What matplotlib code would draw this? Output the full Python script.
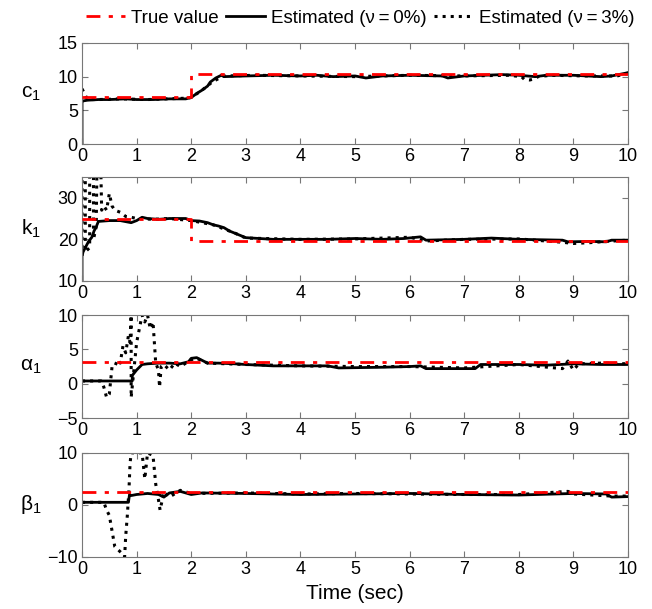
import numpy as np
import matplotlib
matplotlib.use('Agg')
import matplotlib.pyplot as plt

plt.rcParams['font.family'] = ['Liberation Sans', 'DejaVu Sans']
plt.rcParams['mathtext.default'] = 'regular'
plt.rcParams['font.size'] = 12

# ---- data ----
c1_true_t = [0, 2, 2, 10]
c1_true = [7.0, 7.0, 10.4, 10.4]
c1_est0_t = [0, 0, 0.02, 0.1, 0.3, 0.5, 0.8, 1.0, 1.3, 1.6, 1.9, 2.0, 2.1, 2.2, 2.3, 2.35,
             2.45, 2.55, 2.6, 3.0, 3.5, 4.0, 4.3, 4.6, 5.0, 5.2, 5.5, 6.0, 6.6, 6.7, 7.0,
             7.7, 8.0, 8.3, 8.5, 9.0, 9.5, 9.7, 9.95, 10]
c1_est0 = [0, 6.2, 6.4, 6.5, 6.6, 6.6, 6.7, 6.6, 6.6, 6.7, 6.7, 6.9, 7.5, 8.0, 8.6, 9.2,
           9.8, 10.2, 10.0, 10.1, 10.2, 10.1, 10.2, 10.0, 10.1, 9.8, 10.1, 10.2, 10.1, 9.8, 10.1,
           10.3, 10.2, 10.0, 10.2, 10.2, 10.0, 10.1, 10.5, 10.6]
c1_est3_t = [0, 0.05, 0.1, 0.3, 0.7, 1.2, 1.9, 2.0, 2.2, 2.4, 2.6, 3.2, 4.0, 5.0, 6.0, 7.0,
             7.8, 8.05, 8.1, 8.2, 8.3, 8.35, 8.6, 9.2, 9.8, 10]
c1_est3 = [8.2, 7.4, 6.6, 6.6, 6.7, 6.6, 6.8, 6.9, 8.0, 9.3, 10.1, 10.2, 10.1, 10.0, 10.2, 10.1,
           10.2, 10.0, 9.6, 9.5, 9.7, 10.0, 10.2, 10.1, 10.1, 10.5]

k1_true_t = [0, 2, 2, 10]
k1_true = [25, 25, 19.7, 19.7]
k1_est0_t = [0, 0, 0.02, 0.08, 0.12, 0.18, 0.22, 0.26, 0.3, 0.5, 0.7, 0.9, 1.0, 1.1, 1.2,
             1.4, 1.6, 1.9, 2.0, 2.15, 2.3, 2.4, 2.5, 2.6, 2.7, 2.85, 3.0, 3.5, 4.0, 4.5,
             5.0, 5.5, 5.9, 6.2, 6.3, 7.0, 7.5, 8.0, 8.8, 8.9, 9.3, 9.6, 9.7, 10]
k1_est0 = [10, 16, 17, 18.5, 19.5, 20.5, 22, 23, 24.3, 24.5, 24.5, 24.0, 24.5, 25.3, 25.0,
           24.8, 25, 25, 24.5, 24.4, 24.0, 23.5, 23.2, 22.8, 22.0, 21.2, 20.4, 20.0, 20.0, 20.0,
           20.2, 20.0, 20.2, 20.6, 19.8, 20.0, 20.3, 20.0, 19.8, 19.4, 19.5, 19.4, 19.8, 19.8]
k1_est3_t = [0, 0.0, 0.06, 0.06, 0.14, 0.14, 0.21, 0.21, 0.26, 0.28, 0.33, 0.36,
             0.4, 0.45, 0.5, 0.55, 0.6, 0.7, 0.8, 0.9, 1.0, 1.3, 1.6, 2.0,
             2.4, 2.8, 3.0, 4.0, 5.0, 6.0, 6.3, 7.0, 8.0, 8.8, 9.0, 9.3, 9.6, 10]
k1_est3 = [16, 45, 45, 17, 18, 45, 45, 20, 23, 45, 45, 27, 28, 27, 31,
           28, 27, 26.5, 25.5, 25.3, 25, 24.8, 25, 24.5, 23.5, 21.5, 20.3, 20.0, 20.1, 20.5, 19.6,
           20.0, 20.1, 19.3, 19.0, 19.2, 19.5, 19.8]

a1_true_t = [0, 10]
a1_true = [3.2, 3.2]
a1_est0_t = [0, 0.92, 0.92, 0.96, 1.0, 1.05, 1.1, 1.2, 1.4, 1.6, 1.8, 1.95, 2.0, 2.1, 2.2,
             2.3, 2.5, 2.8, 3.0, 3.5, 4.0, 4.5, 4.7, 5.5, 6.0, 6.2, 6.3, 7.2, 7.3, 8.0, 8.5,
             9.0, 9.5, 10]
a1_est0 = [0.4, 0.4, 1.2, 1.6, 2.0, 2.4, 2.8, 2.9, 3.0, 3.0, 2.9, 3.2, 3.7, 3.8, 3.4,
           3.0, 3.0, 2.9, 2.8, 2.6, 2.6, 2.6, 2.3, 2.4, 2.5, 2.6, 2.2, 2.2, 2.8, 2.8, 2.7,
           2.9, 2.8, 2.8]
a1_est3_t = [0, 0.35, 0.4, 0.45, 0.5, 0.55, 0.6, 0.65, 0.7, 0.75, 0.8, 0.85, 0.88, 0.9, 0.9,
             0.95, 1.0, 1.05, 1.1, 1.15, 1.2, 1.25, 1.3, 1.35, 1.4, 1.42, 1.45, 1.5, 1.6, 1.7,
             1.8, 1.9, 2.0, 2.1, 2.3, 3.0, 4.0, 5.0, 6.0, 7.0, 8.0, 8.8, 8.9, 9.0, 9.1, 9.5, 10]
a1_est3 = [0.4, 0.4, -0.5, -2, -1.5, 2.5, 2.5, 3.5, 3, 5.5, 4.5, 7, 6, 10, -2,
           2, 6, 8, 10, 9, 10, 8, 9, 3, 2, -0.5, 2.5, 2.8, 2.0, 3.0,
           2.5, 3.0, 3.5, 3.7, 3.0, 2.8, 2.6, 2.5, 2.5, 2.3, 2.8, 2.2, 3.3, 2.0, 2.9, 3.0, 2.9]

b1_true_t = [0, 10]
b1_true = [2.4, 2.4]
b1_est0_t = [0, 0.85, 0.87, 0.9, 1.0, 1.2, 1.4, 1.5, 1.6, 1.8, 2.0, 2.2, 3.0, 4.0, 5.0,
             6.0, 7.0, 8.0, 9.0, 9.6, 9.7, 10]
b1_est0 = [0.5, 0.5, 2.0, 1.8, 2.0, 2.2, 2.0, 1.5, 2.3, 2.6, 2.0, 2.3, 2.2, 2.0, 2.1,
           2.2, 2.0, 1.9, 2.2, 2.1, 1.5, 1.6]
b1_est3_t = [0, 0.4, 0.45, 0.5, 0.55, 0.6, 0.65, 0.7, 0.75, 0.78, 0.8, 0.83, 0.86, 0.88,
             0.9, 1.0, 1.1, 1.15, 1.2, 1.3, 1.35, 1.4, 1.43, 1.5, 1.6, 1.8, 2.0, 3.0, 4.0,
             5.0, 6.0, 7.0, 8.0, 8.9, 9.0, 9.7, 10]
b1_est3 = [0.5, 0.5, -1, -2, -5, -8, -8.5, -9, -9.5, -10, -6, -2, 3, 8,
           10, 10, 10, 5, 10, 9.5, 4, 1, -1, 2.5, 1.5, 2.8, 2.2, 2.3, 2.1,
           2.2, 2.1, 2.0, 2.0, 2.6, 2.1, 1.7, 1.7]

panels = [
    ('c$_1$', (c1_true_t, c1_true), (c1_est0_t, c1_est0), (c1_est3_t, c1_est3), (0, 15), [0, 5, 10, 15]),
    ('k$_1$', (k1_true_t, k1_true), (k1_est0_t, k1_est0), (k1_est3_t, k1_est3), (10, 35), [10, 20, 30]),
    ('α$_1$', (a1_true_t, a1_true), (a1_est0_t, a1_est0), (a1_est3_t, a1_est3), (-5, 10), [-5, 0, 5, 10]),
    ('β$_1$', (b1_true_t, b1_true), (b1_est0_t, b1_est0), (b1_est3_t, b1_est3), (-10, 10), [-10, 0, 10]),
]

fig = plt.figure(figsize=(6.52, 6.09), dpi=100)
bottoms = [0.7635, 0.5386, 0.3136, 0.0854]
heights = [0.166, 0.171, 0.169, 0.171]
frame = '#777777'

for (lab, tr, e0, e3, yl, yt), b, h in zip(panels, bottoms, heights):
    ax = fig.add_axes([0.1258, b, 0.8374, h])
    l3, = ax.plot(e3[0], e3[1], color='black', linestyle=':', lw=2.2, zorder=2)
    l0, = ax.plot(e0[0], e0[1], color='black', linestyle='-', lw=2.0, zorder=2)
    lt, = ax.plot(tr[0], tr[1], color='red', lw=2.0, dashes=(5, 3, 1.5, 3), zorder=3)
    ax.set_xlim(0, 10)
    ax.set_ylim(*yl)
    ax.set_yticks(yt)
    ax.set_xticks(range(11))
    ax.tick_params(direction='in', top=True, right=True, color=frame, length=4,
                   labelsize=13, pad=3)
    for s in ax.spines.values():
        s.set_color(frame)
    ax.set_ylabel(lab, rotation=0, fontsize=15, ha='center', va='center')
    ax.yaxis.set_label_coords(-0.093, 0.5)

ax.set_xlabel('Time (sec)', fontsize=15, labelpad=4)

fig.legend([lt, l0, l3],
           ['True value', 'Estimated (ν\u2009=\u20090%)', 'Estimated (ν\u2009=\u20093%)'],
           loc='upper center', bbox_to_anchor=(0.552, 1.012), ncol=3, frameon=False,
           fontsize=13.5, handlelength=2.1, columnspacing=0.4, handletextpad=0.3)

plt.savefig('out.png', dpi=100)
